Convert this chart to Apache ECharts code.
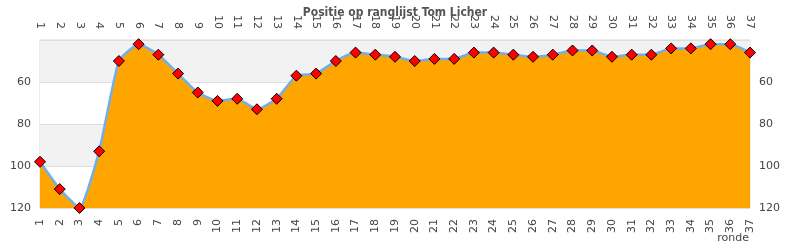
<!DOCTYPE html>
<html>
<head>
<meta charset="utf-8">
<script src="https://cdn.jsdelivr.net/npm/echarts@6/dist/echarts.min.js"></script>
<style>html,body{margin:0;padding:0;background:#fff}#c{width:790px;height:250px}</style>
</head>
<body>
<div id="c"></div>
<script>
const titleText = 'Positie op ranglijst Tom Licher';
const rounds = ['1','2','3','4','5','6','7','8','9','10','11','12','13','14','15','16','17','18','19','20','21','22','23','24','25','26','27','28','29','30','31','32','33','34','35','36','37'];
const positions = [98, 111, 120, 93, 50, 42, 47, 56, 65, 69, 68, 73, 68, 57, 56, 50, 46, 47, 48, 50, 49, 49, 46, 46, 47, 48, 47, 45, 45, 48, 47, 47, 44, 44, 42, 42, 46];
const xName = 'ronde';
const yMin = 40, yMax = 120, yStep = 20;

const chart = echarts.init(document.getElementById('c'), null, {renderer: 'canvas'});
const font = 'DejaVu Sans';
const labelStyle = {fontFamily: font, fontSize: 11, color: '#444'};
const xAxisBase = {
  type: 'category', data: rounds, boundaryGap: false,
  axisLine: {show: false}, axisTick: {show: false}, splitLine: {show: false},
  axisLabel: Object.assign({interval: 0, rotate: 90, margin: 11}, labelStyle)
};
const yAxisBase = {
  type: 'value', inverse: true, min: yMin, max: yMax, interval: yStep,
  axisLine: {show: false}, axisTick: {show: false},
  axisLabel: Object.assign({showMinLabel: false, margin: 9}, labelStyle)
};
chart.setOption({
  animation: false,
  title: {text: titleText, left: 'center', top: 2,
    textStyle: {fontFamily: 'DejaVu Sans Condensed, DejaVu Sans', fontWeight: 'bold', fontSize: 12, color: '#555'}},
  grid: {left: 40, right: 40, top: 40, bottom: 42, show: true, borderColor: '#d8d8d8', borderWidth: 1, backgroundColor: 'transparent'},
  xAxis: [
    Object.assign({position: 'bottom'}, xAxisBase),
    Object.assign({position: 'top'}, xAxisBase)
  ],
  yAxis: [
    Object.assign({position: 'left',
      splitLine: {show: true, lineStyle: {color: '#dddddd'}},
      splitArea: {show: true, areaStyle: {color: ['#f2f2f2', '#ffffff']}}}, yAxisBase),
    Object.assign({position: 'right', splitLine: {show: false}}, yAxisBase)
  ],
  graphic: [{type: 'text', right: 41, top: 233,
    style: {text: xName, font: '11px DejaVu Sans', fill: '#444'}}],
  series: [{
    type: 'line', data: positions, xAxisIndex: 0, yAxisIndex: 0,
    smooth: 0.15, clip: false,
    lineStyle: {color: '#72aee8', width: 2.5},
    areaStyle: {color: '#ffa500', opacity: 1, origin: 'end'},
    symbol: 'diamond', symbolSize: 11,
    itemStyle: {color: '#ff0000', borderColor: '#000', borderWidth: 1}
  }]
});
</script>
</body>
</html>
